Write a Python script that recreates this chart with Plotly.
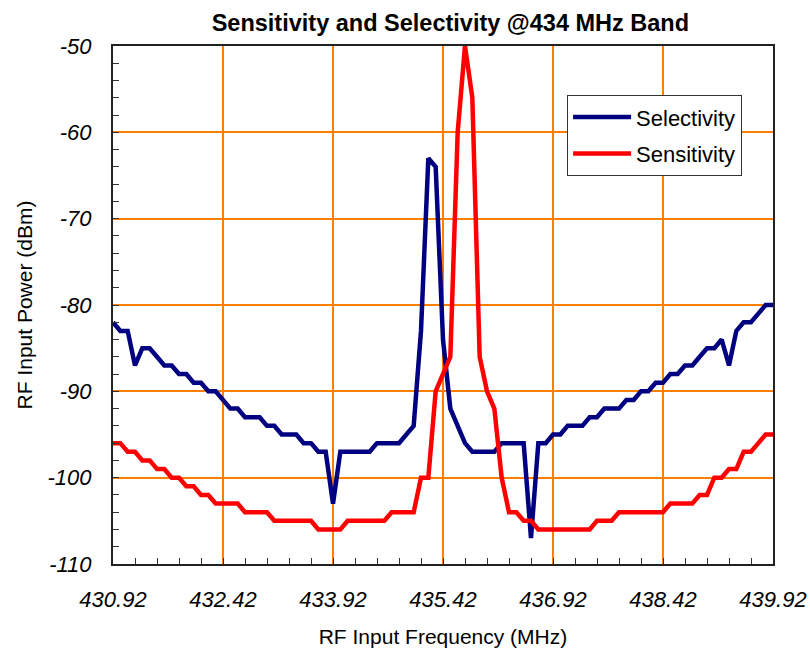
import plotly.graph_objects as go

# RF input frequency (MHz), sampled every 0.1 MHz
freq = [430.92, 431.02, 431.12, 431.22, 431.32, 431.42, 431.52, 431.62, 431.72, 431.82,
        431.92, 432.02, 432.12, 432.22, 432.32, 432.42, 432.52, 432.62, 432.72, 432.82,
        432.92, 433.02, 433.12, 433.22, 433.32, 433.42, 433.52, 433.62, 433.72, 433.82,
        433.92, 434.02, 434.12, 434.22, 434.32, 434.42, 434.52, 434.62, 434.72, 434.82,
        434.92, 435.02, 435.12, 435.22, 435.32, 435.42, 435.52, 435.62, 435.72, 435.82,
        435.92, 436.02, 436.12, 436.22, 436.32, 436.42, 436.52, 436.62, 436.72, 436.82,
        436.92, 437.02, 437.12, 437.22, 437.32, 437.42, 437.52, 437.62, 437.72, 437.82,
        437.92, 438.02, 438.12, 438.22, 438.32, 438.42, 438.52, 438.62, 438.72, 438.82,
        438.92, 439.02, 439.12, 439.22, 439.32, 439.42, 439.52, 439.62, 439.72, 439.82,
        439.92]

selectivity = [-82, -83, -83, -87, -85, -85, -86, -87, -87, -88,
               -88, -89, -89, -90, -90, -91, -92, -92, -93, -93,
               -93, -94, -94, -95, -95, -95, -96, -96, -97, -97,
               -103, -97, -97, -97, -97, -97, -96, -96, -96, -96,
               -95, -94, -83, -63, -64, -84, -92, -94, -96, -97,
               -97, -97, -97, -96, -96, -96, -96, -107, -96, -96,
               -95, -95, -94, -94, -94, -93, -93, -92, -92, -92,
               -91, -91, -90, -90, -89, -89, -88, -88, -87, -87,
               -86, -85, -85, -84, -87, -83, -82, -82, -81, -80,
               -80]

sensitivity = [-96, -96, -97, -97, -98, -98, -99, -99, -100, -100,
               -101, -101, -102, -102, -103, -103, -103, -103, -104, -104,
               -104, -104, -105, -105, -105, -105, -105, -105, -106, -106,
               -106, -106, -105, -105, -105, -105, -105, -105, -104, -104,
               -104, -104, -100, -100, -90, -88, -86, -60, -50, -56,
               -86, -90, -92, -100, -104, -104, -105, -105, -106, -106,
               -106, -106, -106, -106, -106, -106, -105, -105, -105, -104,
               -104, -104, -104, -104, -104, -104, -103, -103, -103, -103,
               -102, -102, -100, -100, -99, -99, -97, -97, -96, -95,
               -95]

x_tickvals = [430.92, 432.42, 433.92, 435.42, 436.92, 438.42, 439.92]
x_ticktext = ["430.92", "432.42", "433.92", "435.42", "436.92", "438.42", "439.92"]
y_tickvals = [-110, -100, -90, -80, -70, -60, -50]
y_ticktext = ["-110", "-100", "-90", "-80", "-70", "-60", "-50"]

FONT = "Liberation Sans, Arial, sans-serif"
GRID = "#FF7F00"

fig = go.Figure()
fig.add_trace(go.Scatter(x=freq, y=selectivity, mode="lines", name="Selectivity",
                         legendgroup="sel",
                         line=dict(color="#000080", width=4.5)))
fig.add_trace(go.Scatter(x=freq, y=sensitivity, mode="lines", name="Sensitivity",
                         legendgroup="sen",
                         line=dict(color="#FF0000", width=4.5)))

fig.update_layout(
    width=810, height=648,
    margin=dict(l=113, r=37, t=46, b=84),
    paper_bgcolor="white", plot_bgcolor="white",
    font=dict(family=FONT, color="black"),
    title=dict(text="<b>Sensitivity and Selectivity @434 MHz Band</b>",
               x=0.556, xanchor="center", y=0.965, yanchor="middle",
               font=dict(size=23.5, family=FONT, color="black")),
    showlegend=True,
    legend=dict(x=0.688, y=0.905, xanchor="left", yanchor="top",
                bgcolor="white", bordercolor="#333333", borderwidth=1,
                font=dict(size=22, family=FONT, color="black"),
                traceorder="grouped", tracegroupgap=5,
                itemwidth=58),
)

fig.update_xaxes(
    range=[430.92, 439.92], automargin=False,
    tickmode="array", tickvals=x_tickvals, ticktext=x_ticktext,
    tickfont=dict(size=22, family=FONT, color="black", style="italic"),
    ticks="inside", ticklen=6, tickcolor="#333333",
    ticklabelstandoff=15,
    showgrid=True, gridcolor=GRID, gridwidth=1.5,
    showline=True, linecolor="#222222", linewidth=2, mirror=True,
    zeroline=False,
    minor=dict(tick0=430.92, dtick=0.3, ticks="inside", ticklen=6,
               tickcolor="#333333", showgrid=False),
    title=dict(text="RF Input Frequency (MHz)",
               font=dict(size=21, family=FONT, color="black"), standoff=22),
)
fig.update_yaxes(
    range=[-110, -50], automargin=False,
    tickmode="array", tickvals=y_tickvals, ticktext=y_ticktext,
    tickfont=dict(size=22, family=FONT, color="black", style="italic"),
    ticks="inside", ticklen=6, tickcolor="#333333",
    ticklabelstandoff=15,
    showgrid=True, gridcolor=GRID, gridwidth=1.5,
    showline=True, linecolor="#222222", linewidth=2, mirror=True,
    zeroline=False,
    minor=dict(tick0=-110, dtick=2, ticks="inside", ticklen=6,
               tickcolor="#333333", showgrid=False),
    title=dict(text="RF Input Power (dBm)",
               font=dict(size=21, family=FONT, color="black"), standoff=9),
)

fig.write_html("out.html", config={"displayModeBar": False},
               post_script="document.body.style.margin='0';document.body.style.padding='0';")
